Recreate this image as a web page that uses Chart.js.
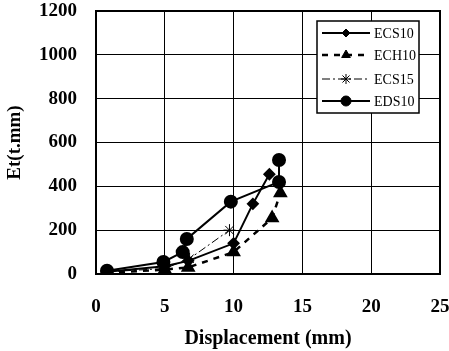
<!DOCTYPE html>
<html lang="en">
<head>
  <meta charset="UTF-8">
  <title>Et vs Displacement</title>
  <script src="https://cdn.jsdelivr.net/npm/chart.js@4"></script>
  <style>
    html, body { margin: 0; padding: 0; background: #fff; }
    .chart_container { width: 449px; height: 351px; }
  </style>
</head>
<body>
  <div class="chart_container">
    <canvas id="myChart"></canvas>
  </div>
  <script>
    // values
    const seriesNames = ['ECS10', 'ECH10', 'ECS15', 'EDS10'];
    const ecs10_x = [0.8, 5, 6.7, 10, 11.4, 12.6];
    const ecs10_y = [10, 35, 60, 140, 320, 455];
    const ech10_x = [0.8, 5, 6.7, 10, 12.8, 13.4];
    const ech10_y = [5, 20, 30, 100, 255, 370];
    const ecs15_x = [0.8, 5, 6.8, 9.7];
    const ecs15_y = [10, 25, 70, 200];
    const eds10_x = [0.8, 4.9, 6.3, 6.6, 9.8, 13.3, 13.3];
    const eds10_y = [15, 55, 100, 160, 330, 420, 520];
    const xTicks = [0, 5, 10, 15, 20, 25];
    const yTicks = [0, 200, 400, 600, 800, 1000, 1200];

    function pts(xs, ys) {
      return xs.map((x, i) => ({ x: x, y: ys[i] }));
    }

    const serif = '"Liberation Serif", "DejaVu Serif", serif';

    // legend box drawn inside the plot, top right
    const boxLegend = {
      id: 'boxLegend',
      afterDraw(chart) {
        const ctx = chart.ctx;
        const left = 317, top = 21, w = 102, h = 92;
        ctx.save();
        ctx.fillStyle = '#fff';
        ctx.fillRect(left, top, w, h);
        ctx.strokeStyle = '#000';
        ctx.lineWidth = 1.5;
        ctx.strokeRect(left, top, w, h);
        const rows = [33, 55, 79, 101];
        chart.data.datasets.forEach((ds, i) => {
          const y = rows[i];
          ctx.strokeStyle = '#000';
          ctx.lineWidth = ds.borderWidth;
          ctx.setLineDash(ds.borderDash || []);
          ctx.beginPath();
          ctx.moveTo(322, y);
          ctx.lineTo(370, y);
          ctx.stroke();
          ctx.setLineDash([]);
          ctx.fillStyle = '#000';
          ctx.lineWidth = 1;
          Chart.helpers.drawPoint(ctx, {
            pointStyle: ds.pointStyle,
            radius: ds.pointRadius - 1,
            rotation: 0,
            borderWidth: 1
          }, 346, y);
          ctx.font = '14px ' + serif;
          ctx.textBaseline = 'middle';
          ctx.textAlign = 'left';
          ctx.fillText(ds.label, 374, y + 1);
        });
        ctx.restore();
      }
    };

    const common = {
      borderColor: '#000',
      backgroundColor: '#000',
      pointBackgroundColor: '#000',
      pointBorderColor: '#000',
      showLine: true,
      fill: false,
      tension: 0
    };

    new Chart(document.getElementById('myChart'), {
      type: 'scatter',
      data: {
        datasets: [
          Object.assign({}, common, {
            label: seriesNames[0], data: pts(ecs10_x, ecs10_y),
            borderWidth: 2, pointStyle: 'rectRot', pointRadius: 5
          }),
          Object.assign({}, common, {
            label: seriesNames[1], data: pts(ech10_x, ech10_y),
            borderWidth: 2.5, borderDash: [6, 6], pointStyle: 'triangle', pointRadius: 6
          }),
          Object.assign({}, common, {
            label: seriesNames[2], data: pts(ecs15_x, ecs15_y),
            borderWidth: 1, borderDash: [8, 3, 2, 3], pointStyle: 'star', pointRadius: 6
          }),
          Object.assign({}, common, {
            label: seriesNames[3], data: pts(eds10_x, eds10_y),
            borderWidth: 2, pointStyle: 'circle', pointRadius: 6
          })
        ]
      },
      options: {
        responsive: true,
        maintainAspectRatio: false,
        animation: false,
        layout: { padding: 0, autoPadding: false },
        plugins: {
          legend: { display: false },
          tooltip: { enabled: false }
        },
        scales: {
          x: {
            type: 'linear',
            min: 0,
            max: 25,
            afterBuildTicks: (axis) => { axis.ticks = xTicks.map(v => ({ value: v })); },
            border: { color: '#000', width: 2 },
            grid: { color: '#000', lineWidth: 1, drawTicks: false },
            ticks: { color: '#000', padding: 22, callback: v => String(v), font: { family: serif, size: 19, weight: 'bold' } },
            title: {
              display: true, text: 'Displacement (mm)', color: '#000',
              font: { family: serif, size: 20, weight: 'bold' },
              padding: { top: 10, bottom: 0 }
            },
            afterFit: (axis) => {
              axis.height = 77;
              axis.paddingLeft = 0;
              axis.paddingRight = 9;
            }
          },
          y: {
            type: 'linear',
            min: 0,
            max: 1200,
            afterBuildTicks: (axis) => { axis.ticks = yTicks.map(v => ({ value: v })); },
            border: { color: '#000', width: 2 },
            grid: { color: '#000', lineWidth: 1, drawTicks: false },
            ticks: { color: '#000', padding: 19, callback: v => String(v), font: { family: serif, size: 19, weight: 'bold' } },
            title: {
              display: true, text: 'Et(t.mm)', color: '#000',
              font: { family: serif, size: 19, weight: 'bold' },
              padding: { top: 4, bottom: 6 }
            },
            afterFit: (axis) => {
              axis.width = 96;
              axis.paddingTop = 11;
              axis.paddingBottom = 0;
            }
          }
        }
      },
      plugins: [boxLegend, {
        id: 'frame',
        afterDraw(chart) {
          const a = chart.chartArea, ctx = chart.ctx;
          ctx.save();
          ctx.strokeStyle = '#000';
          ctx.lineWidth = 2;
          ctx.strokeRect(a.left, a.top, a.right - a.left, a.bottom - a.top);
          ctx.restore();
        }
      }]
    });
  </script>
</body>
</html>
